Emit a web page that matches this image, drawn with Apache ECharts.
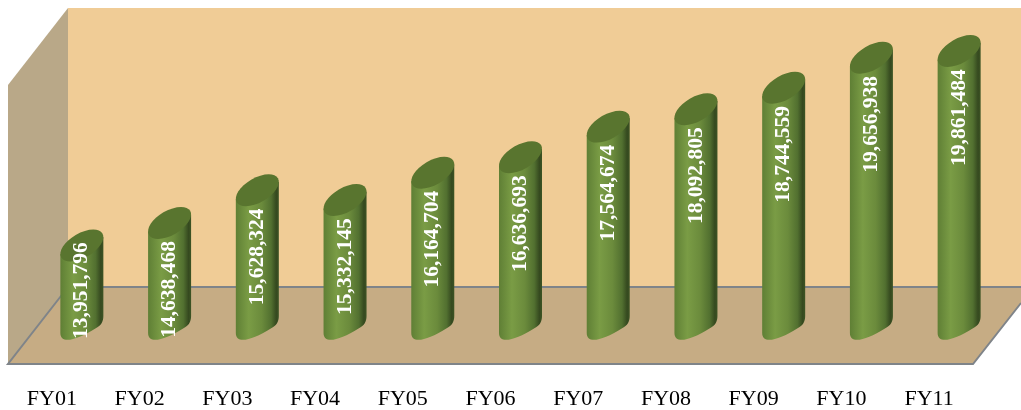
<!DOCTYPE html>
<html>
<head>
<meta charset="utf-8">
<style>
  html, body { margin: 0; padding: 0; background: #fff; }
  #chart { width: 1021px; height: 410px; }
</style>
<script src="https://cdn.jsdelivr.net/npm/echarts@6/dist/echarts.min.js"></script>
</head>
<body>
<div id="chart"></div>
<script>
const categories = ["FY01", "FY02", "FY03", "FY04", "FY05", "FY06", "FY07", "FY08", "FY09", "FY10", "FY11"];
const values = [13951796, 14638468, 15628324, 15332145, 16164704, 16636693, 17564674, 18092805, 18744559, 19656938, 19861484];
const axisMin = 11550000;
const axisMax = 20000000;

// fake 3D box: bars stand half way back on the floor
const depthX = 60;
const depthY = 77;
const plotLeft = 8, plotRight = 973, plotTop = 85, plotBottom = 364;
const rx = 23.85, ry = 12.2, tilt = 30.3 * Math.PI / 180;
const halfW = 21.5, edgeDy = 8.5;

const chart = echarts.init(document.getElementById("chart"));

function renderBar(params, api) {
  const i = api.value(0);
  const v = api.value(1);
  const topPt = api.coord([i, v]);
  const basePt = api.coord([i, axisMin]);
  const cx = topPt[0] + depthX / 2;
  const ty = topPt[1] - depthY / 2;
  const by = basePt[1] - depthY / 2;

  // label hangs from the top of the bar, but stays on the bar when it is short
  const textLen = 97;
  const labelY = Math.min(ty + 18 + textLen / 2, 339 - textLen / 2);

  const x0 = cx - halfW, x1 = cx + halfW;
  const body = `M${x0} ${ty + edgeDy} L${x0} ${by + edgeDy}`
    + ` C${x0} ${by + 20} ${x0 + 16} ${by + 16} ${x1 - 8} ${by + 4}`
    + ` C${x1 - 2} ${by + 1} ${x1} ${by - 3} ${x1} ${by - edgeDy}`
    + ` L${x1} ${ty - edgeDy} Z`;

  return {
    type: "group",
    children: [
      {
        type: "path",
        shape: { pathData: body },
        style: {
          fill: new echarts.graphic.LinearGradient(0, 0, 1, 0, [
            { offset: 0, color: "#5f7f35" },
            { offset: 0.3, color: "#7a9c45" },
            { offset: 0.6, color: "#6b8b3c" },
            { offset: 0.82, color: "#527030" },
            { offset: 0.94, color: "#35491f" },
            { offset: 1, color: "#3d5424" },
          ]),
        },
      },
      {
        type: "ellipse",
        shape: { cx: 0, cy: 0, rx: rx, ry: ry },
        x: cx,
        y: ty,
        rotation: tilt,
        style: { fill: "#59752f" },
      },
      {
        type: "text",
        x: cx,
        y: labelY,
        rotation: Math.PI / 2,
        style: {
          text: v.toLocaleString("en-US"),
          fill: "#fff",
          font: 'bold 21.5px "Liberation Serif"',
          align: "center",
          verticalAlign: "middle",
        },
      },
    ],
  };
}

const lineStyle = { stroke: "#7f8489", lineWidth: 2 };

chart.setOption({
  animation: false,
  backgroundColor: "#fff",
  grid: { left: plotLeft, top: plotTop, width: plotRight - plotLeft, height: plotBottom - plotTop },
  xAxis: {
    type: "category",
    data: categories,
    axisLine: { show: false },
    axisTick: { show: false },
    axisLabel: {
      color: "#000",
      fontFamily: "Liberation Serif",
      fontSize: 22,
      margin: 25,
    },
  },
  yAxis: { type: "value", min: axisMin, max: axisMax, show: false },
  graphic: [
    { type: "rect", z: -3, shape: { x: plotLeft + depthX, y: plotTop - depthY, width: 1021 - plotLeft - depthX, height: plotBottom - plotTop }, style: { fill: "#f0cc96" } },
    { type: "polygon", z: -2, shape: { points: [[plotLeft, plotTop], [plotLeft + depthX, plotTop - depthY], [plotLeft + depthX, plotBottom - depthY], [plotLeft, plotBottom]] }, style: { fill: "#b9a888" } },
    { type: "polygon", z: -2, shape: { points: [[plotLeft, plotBottom], [plotLeft + depthX, plotBottom - depthY], [1021, plotBottom - depthY], [1021, 303], [plotRight, plotBottom]] }, style: { fill: "#c6ac84" } },
    { type: "polyline", z: -1, shape: { points: [[plotLeft + depthX, plotBottom - depthY], [plotLeft, plotBottom], [plotRight, plotBottom], [1021, 303]] }, style: { ...lineStyle, fill: null } },
    { type: "line", z: -1, shape: { x1: plotLeft + depthX, y1: plotBottom - depthY, x2: 1021, y2: plotBottom - depthY }, style: lineStyle },
  ],
  series: [
    {
      type: "custom",
      renderItem: renderBar,
      data: values.map((v, i) => [i, v]),
      encode: { x: 0, y: 1 },
      silent: true,
    },
  ],
});
</script>
</body>
</html>
